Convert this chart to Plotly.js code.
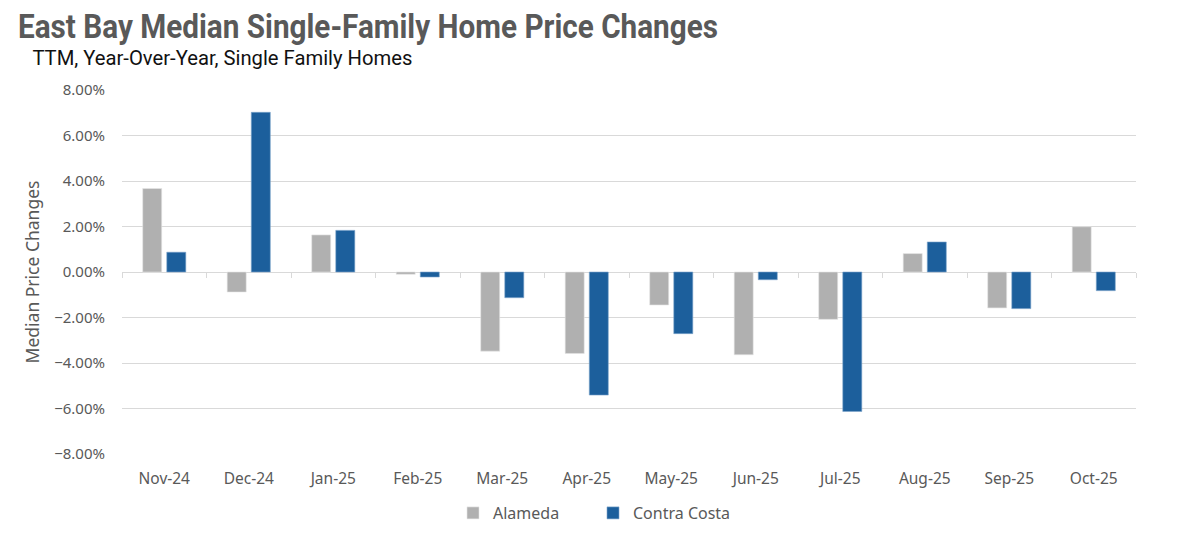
<!DOCTYPE html>
<html><head><meta charset="utf-8">
<script src="https://cdn.plot.ly/plotly-3.0.1.min.js"></script>
<style>html,body{margin:0;padding:0;background:#fff}#chart{width:1178px;height:546px}</style>
</head><body><div id="chart"></div>
<script>
const months = ["Nov-24","Dec-24","Jan-25","Feb-25","Mar-25","Apr-25","May-25","Jun-25","Jul-25","Aug-25","Sep-25","Oct-25"];
const alameda = [0.0367,-0.0088,0.0163,-0.0010,-0.0348,-0.0358,-0.0145,-0.0364,-0.0208,0.0081,-0.0158,0.0199];
const contraCosta = [0.0087,0.0702,0.0183,-0.0022,-0.0113,-0.0541,-0.0271,-0.0034,-0.0613,0.0132,-0.0161,-0.0082];
const yTicks = [-0.08,-0.06,-0.04,-0.02,0,0.02,0.04,0.06,0.08];
const seriesNames = ["Alameda","Contra Costa"];

const textGray = '#595959';
const gridGray = '#d9d9d9';
const narrow = 'Roboto, "DejaVu Sans Condensed", sans-serif';
const body = '"Noto Sans", "Open Sans", sans-serif';

const traces = [
  {type:'bar', name:seriesNames[0], x:months, y:alameda, marker:{color:'#b0b0b0', line:{color:'#e6e6e6', width:0.6}}, hoverinfo:'x+y'},
  {type:'bar', name:seriesNames[1], x:months, y:contraCosta, marker:{color:'#1c5f9c', line:{color:'#7fa6cc', width:0.6}}, hoverinfo:'x+y'},
  {type:'scatter', mode:'markers', x:months, y:months.map(()=>null), xaxis:'x2', yaxis:'y', showlegend:false, hoverinfo:'skip', marker:{opacity:0}}
];

const L = 122, PW = 1014, T = 90, PH = 364;
const layout = {
  width:1178, height:546,
  margin:{l:L, r:42, t:T, b:92},
  paper_bgcolor:'#fff', plot_bgcolor:'#fff',
  font:{family:body, color:textGray, size:14},
  barmode:'group', bargap:0.43, bargroupgap:0.21,
  title:{text:'East Bay Median Single-Family Home Price Changes', x:368/1178, xanchor:'center', xref:'container', yref:'container', y:1-26/546, yanchor:'middle',
    font:{family:narrow, size:33, color:textGray, weight:'bold'}},
  annotations:[{text:'TTM, Year-Over-Year, Single Family Homes', xref:'paper', yref:'paper', x:(222-L)/PW, xanchor:'center', y:1+(T-58)/PH, yanchor:'middle', showarrow:false,
    font:{family:narrow, size:21, color:'#111'}}],
  xaxis:{type:'category', categoryarray:months, range:[-0.5,11.5], showgrid:false, zeroline:false, showline:false,
    ticks:'outside', ticklen:10, tickcolor:'rgba(0,0,0,0)', tickfont:{size:15.5, color:textGray}, fixedrange:true},
  xaxis2:{type:'category', categoryarray:months, range:[-0.5,11.5], overlaying:'x', anchor:'free', position:0.5, side:'bottom',
    tickson:'boundaries', ticks:'outside', ticklen:5, tickcolor:gridGray, tickwidth:1, showticklabels:false, showgrid:false, showline:false, zeroline:false},
  yaxis:{range:[-0.08,0.08], tickvals:yTicks, tickformat:'.2%', showgrid:true, gridcolor:gridGray, gridwidth:1,
    zeroline:true, zerolinecolor:gridGray, zerolinewidth:1, showline:false,
    ticks:'outside', ticklen:13, tickcolor:'rgba(0,0,0,0)', tickfont:{size:15, color:textGray},
    title:{text:'Median Price Changes', font:{size:17.5, color:textGray}, standoff:10}},
  legend:{orientation:'h', x:(593-L)/PW, xref:'paper', xanchor:'center', y:-(513-454)/PH, yanchor:'middle', font:{size:16, color:textGray}, traceorder:'normal', entrywidth:95},
  showlegend:true
};
Plotly.newPlot('chart', traces, layout, {displayModeBar:false, staticPlot:true}).then(function(gd){
  const t = gd.querySelector('text.gtitle');
  if (t) { t.setAttribute('textLength', 700); t.setAttribute('lengthAdjust', 'spacingAndGlyphs'); }
  const s = gd.querySelector('text.annotation-text');
  if (s) { s.setAttribute('textLength', 380); s.setAttribute('lengthAdjust', 'spacingAndGlyphs'); }
});
</script></body></html>
